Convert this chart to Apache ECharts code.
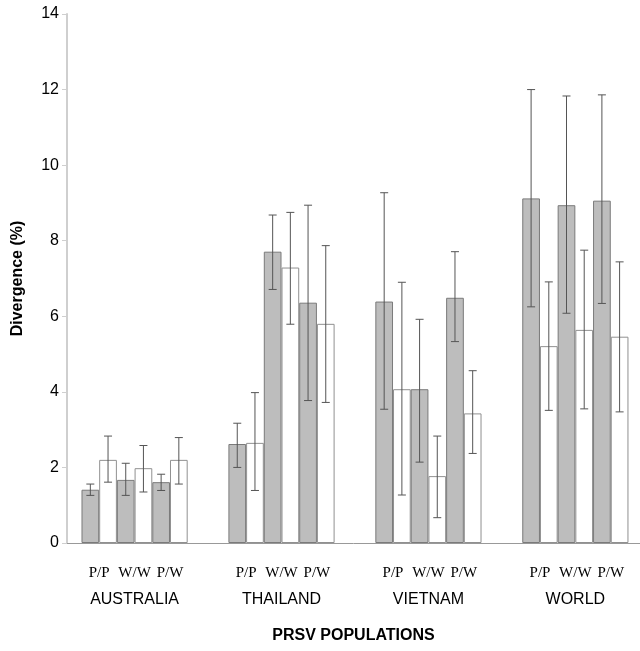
<!DOCTYPE html>
<html>
<head>
    <meta charset="utf-8">
    <title>PRSV divergence</title>
    <script src="https://cdn.jsdelivr.net/npm/echarts@6.0.0/dist/echarts.min.js"></script>
</head>
<body style="margin:0;background:#fff">
    <div id="main" style="width:640px;height:651px;"></div>
    <script type="text/javascript">
        // regions and comparison labels
        var regions = ['AUSTRALIA', 'THAILAND', 'VIETNAM', 'WORLD'];
        var pairs = ['P/P', 'W/W', 'P/W'];

        // mean divergence (%) per region, gray = first bar of each pair, white = second
        var grayMean = [
            [1.41, 1.67, 1.61],   // Australia
            [2.62, 7.71, 6.36],   // Thailand
            [6.39, 4.07, 6.49],   // Vietnam
            [9.12, 8.94, 9.06]    // World
        ];
        var whiteMean = [
            [2.20, 1.98, 2.20],
            [2.65, 7.29, 5.80],
            [4.07, 1.77, 3.43],
            [5.21, 5.64, 5.46]
        ];
        // error bar low / high
        var grayLow = [
            [1.26, 1.26, 1.39],
            [2.00, 6.71, 3.77],
            [3.54, 2.14, 5.33],
            [6.25, 6.08, 6.34]
        ];
        var grayHigh = [
            [1.56, 2.11, 1.82],
            [3.17, 8.68, 8.94],
            [9.27, 5.92, 7.71],
            [12.0, 11.83, 11.86]
        ];
        var whiteLow = [
            [1.61, 1.35, 1.56],
            [1.39, 5.79, 3.72],
            [1.27, 0.67, 2.37],
            [3.51, 3.55, 3.47]
        ];
        var whiteHigh = [
            [2.83, 2.58, 2.79],
            [3.98, 8.75, 7.87],
            [6.90, 2.83, 4.56],
            [6.91, 7.75, 7.44]
        ];

        var BAR_W = 17.7;       // px
        var PX_PER_UNIT = 573 / 3.9;
        var XMIN = -0.46, XMAX = 3.44;

        var myChart = echarts.init(document.getElementById('main'));

        var series = [];
        var errData = [];
        for (var p = 0; p < 3; p++) {
            var g = [], w = [];
            for (var r = 0; r < regions.length; r++) {
                g.push([r, grayMean[r][p]]);
                w.push([r, whiteMean[r][p]]);
                errData.push([r, p * 2, grayLow[r][p], grayHigh[r][p]]);
                errData.push([r, p * 2 + 1, whiteLow[r][p], whiteHigh[r][p]]);
            }
            series.push({
                type: 'bar', data: g, barWidth: BAR_W, barGap: '0%',
                itemStyle: {color: '#bdbdbd', borderColor: '#7a7a7a', borderWidth: 1},
                silent: true, animation: false
            });
            series.push({
                type: 'bar', data: w, barWidth: BAR_W, barGap: '0%',
                itemStyle: {color: '#ffffff', borderColor: '#909090', borderWidth: 1},
                silent: true, animation: false
            });
        }

        series.push({
            type: 'custom',
            data: errData,
            z: 10,
            silent: true,
            animation: false,
            renderItem: function (params, api) {
                var dx = (api.value(1) - 2.5) * BAR_W;
                var lo = api.coord([api.value(0), api.value(2)]);
                var hi = api.coord([api.value(0), api.value(3)]);
                var x = lo[0] + dx;
                var cap = 4;
                var st = {stroke: '#555', lineWidth: 1};
                return {
                    type: 'group',
                    children: [
                        {type: 'line', shape: {x1: x, y1: hi[1], x2: x, y2: lo[1]}, style: st},
                        {type: 'line', shape: {x1: x - cap, y1: hi[1], x2: x + cap, y2: hi[1]}, style: st},
                        {type: 'line', shape: {x1: x - cap, y1: lo[1], x2: x + cap, y2: lo[1]}, style: st}
                    ]
                };
            }
        });

        // positions of the pair labels (centre of gray+white pair)
        var pairOffset = 2 * BAR_W / PX_PER_UNIT;
        var pairTicks = [];
        var pairNames = {};
        for (var r2 = 0; r2 < regions.length; r2++) {
            for (var k = 0; k < 3; k++) {
                var v = +(r2 + (k - 1) * pairOffset).toFixed(4);
                pairTicks.push(v);
                pairNames[v] = pairs[k];
            }
        }

        var option = {
            backgroundColor: '#fff',
            grid: {left: 67, right: 0, top: 14, bottom: 108},
            xAxis: [
                {
                    type: 'value', min: XMIN, max: XMAX,
                    axisLine: {show: true, onZero: false, lineStyle: {color: '#999', width: 1}},
                    axisTick: {show: false},
                    splitLine: {show: false},
                    axisLabel: {
                        customValues: pairTicks,
                        margin: 23,
                        fontFamily: 'Liberation Serif', fontSize: 15, color: '#000',
                        formatter: function (val) { return pairNames[+val.toFixed(4)] || ''; }
                    }
                },
                {
                    type: 'value', min: XMIN, max: XMAX, position: 'bottom',
                    axisLine: {show: false, onZero: false},
                    axisTick: {show: false},
                    splitLine: {show: false},
                    axisLabel: {
                        customValues: [0, 1, 2, 3],
                        margin: 49,
                        fontFamily: 'Liberation Sans', fontSize: 16, color: '#000',
                        formatter: function (val) { return regions[Math.round(val)]; }
                    },
                    name: 'PRSV POPULATIONS',
                    nameLocation: 'middle',
                    nameGap: 85,
                    nameTextStyle: {fontFamily: 'Liberation Sans', fontSize: 16, fontWeight: 'bold', color: '#000'}
                }
            ],
            yAxis: {
                type: 'value', min: 0, max: 14, interval: 2,
                name: 'Divergence (%)',
                nameLocation: 'middle',
                nameGap: 41,
                nameTextStyle: {fontFamily: 'Liberation Sans', fontSize: 16, fontWeight: 'bold', color: '#000'},
                axisLine: {show: true, onZero: false, lineStyle: {color: '#cfcfcf', width: 2}},
                axisTick: {show: true, length: 5, lineStyle: {color: '#cfcfcf'}},
                axisLabel: {fontFamily: 'Liberation Sans', fontSize: 16, color: '#000', margin: 8},
                splitLine: {show: false}
            },
            series: series
        };

        myChart.setOption(option);
    </script>
</body>
</html>
